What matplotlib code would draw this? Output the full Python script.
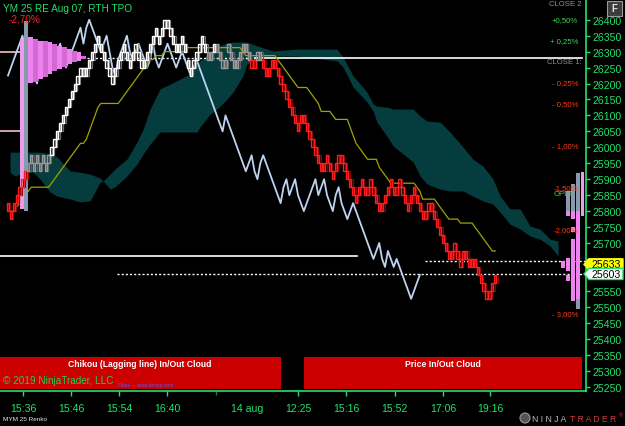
import numpy as np
import pandas as pd
import matplotlib
matplotlib.use("Agg")
import matplotlib.pyplot as plt
from matplotlib.patches import Rectangle, Polygon
import matplotlib.transforms as mtransforms

plt.rcParams['font.family'] = ['Liberation Sans', 'DejaVu Sans']

# ---------------- data ----------------
brick_size = 25
closes = [
    25800, 25775, 25825, 25850, 25875, 25900, 25925, 25950, 25975, 25925,
    25975, 25925, 25975, 25925, 25975, 26000, 26025, 26050, 26075, 26100,
    26125, 26150, 26175, 26200, 26225, 26250, 26225, 26250, 26275, 26300,
    26325, 26350, 26300, 26275, 26250, 26225, 26200, 26250, 26275, 26300,
    26325, 26275, 26250, 26300, 26325, 26275, 26250, 26275, 26300, 26325,
    26350, 26375, 26325, 26375, 26400, 26375, 26350, 26325, 26300, 26325,
    26350, 26300, 26250, 26225, 26275, 26300, 26325, 26350, 26300, 26275,
    26300, 26325, 26300, 26275, 26250, 26275, 26325, 26275, 26250, 26275,
    26300, 26325, 26300, 26275, 26250, 26275, 26300, 26275, 26250, 26225,
    26250, 26275, 26250, 26225, 26200, 26175, 26150, 26125, 26100, 26075,
    26050, 26100, 26075, 26050, 26025, 26000, 25975, 25950, 25925, 25950,
    25975, 25925, 25900, 25950, 25975, 25950, 25925, 25900, 25875, 25850,
    25825, 25875, 25900, 25850, 25875, 25900, 25850, 25825, 25800, 25825,
    25850, 25875, 25900, 25850, 25875, 25900, 25850, 25825, 25800, 25850,
    25875, 25825, 25800, 25775, 25800, 25825, 25800, 25775, 25750, 25725,
    25700, 25675, 25650, 25675, 25700, 25650, 25625, 25675, 25650, 25625,
    25650, 25625, 25600, 25575, 25550, 25525, 25550, 25575, 25600,
]
chikou_shift = 26
kijun_period = 26

cloud_bars = [0.7, 2.4, 4.1, 8.6, 11.0, 14.5, 16.9, 21.4, 24.8, 28.3, 30.0, 31.7, 32.8,
              35.2, 36.9, 41.0, 44.5, 46.6, 49.0, 52.4, 55.9, 62.8, 65.2, 66.2, 69.7,
              72.1, 75.5, 77.6, 81.0, 82.4, 85.9, 91.4, 99.7, 113.4, 115.5, 119.0,
              123.8, 125.9, 127.2, 130.7, 132.8, 139.7, 142.1, 144.5, 149.0, 152.4,
              156.9, 160.3, 163.8, 167.2, 169.7, 173.1, 176.6, 180.0, 183.4, 186.9, 189.7]
cloud_span_a = [25985, 25985, 25985, 25985, 25985, 25979, 25970, 25926, 25922, 25916,
                25910, 25904, 25894, 25916, 25932, 25963, 26017, 26057, 26120, 26183,
                26198, 26230, 26261, 26271, 26299, 26314, 26327, 26330, 26330, 26330,
                26318, 26302, 26308, 26308, 26283, 26224, 26173, 26136, 26129, 26126,
                26120, 26120, 26098, 26082, 26079, 26048, 26001, 25963, 25941, 25901,
                25847, 25807, 25807, 25753, 25744, 25712, 25706]
cloud_span_b = [25922, 25910, 25916, 25922, 25901, 25860, 25847, 25838, 25829, 25832,
                25860, 25891, 25894, 25869, 25876, 25910, 25948, 25979, 26010, 26048,
                26048, 26048, 26048, 26064, 26104, 26120, 26151, 26173, 26224, 26261,
                26277, 26286, 26286, 26271, 26252, 26189, 26142, 26114, 26079, 26035,
                26004, 25954, 25910, 25885, 25869, 25863, 25863, 25847, 25832, 25822,
                25797, 25759, 25744, 25722, 25712, 25691, 25659]

# left TPO profile: (left bar, width, low, high)
left_prof_left = [4.14, 5.52, 7.0, 8.67, 10.33, 12.0, 13.67, 15.33, 17.0, 18.67, 20.33, 22.0, 23.67, 25.33]
left_prof_width = [1.38, 1.5, 1.67, 1.67, 1.67, 1.67, 1.67, 1.67, 1.67, 1.67, 1.67, 1.67, 1.67, 1.5]
left_prof_low = [25807, 25800, 26201, 26205, 26214, 26220, 26230, 26239, 26245, 26252, 26261, 26267, 26271, 26277]
left_prof_high = [26339, 26396, 26346, 26339, 26333, 26333, 26330, 26324, 26318, 26314, 26308, 26302, 26299, 26286]
left_prof_kind = ['pale', 'gray', 'a', 'b', 'a', 'b', 'a', 'b', 'a', 'b', 'a', 'b', 'a', 'b']

# right profile: (x0, x1, low, high, kind)
right_prof_x0 = [192.4, 192.4, 194.1, 194.1, 194.1, 194.1, 195.9, 195.9, 195.9, 197.6, 190.7, 192.4, 192.4]
right_prof_x1 = [193.8, 193.8, 195.5, 195.5, 195.5, 195.5, 197.2, 197.2, 197.2, 198.6, 192.1, 193.8, 193.8]
right_prof_low = [25800, 25784, 25800, 25775, 25734, 25518, 25800, 25524, 25493, 25784, 25622, 25612, 25581]
right_prof_high = [25863, 25800, 25885, 25800, 25750, 25712, 25919, 25800, 25524, 25922, 25644, 25653, 25600]
right_prof_kind = ['gray', 'a', 'gray', 'a', 'a', 'a', 'gray', 'a', 'gray', 'pale', 'a', 'a', 'a']

close1_level = 26280
pct_values = [0.50, 0.25, -0.25, -0.50, -1.00, -1.50, -2.00, -3.00]
pct_labels = ["+0,50%", "+ 0,25%", "- 0,25%", "- 0,50%", "- 1,00%", "-1,50%", "-2,00%", "- 3,00%"]
open_level = 25856
close2_level = 26452

ref_line_level = 25660
dotted_level = 25645
last_price = 25603
yellow_tag = 25633
left_pink_levels = [26300, 26050]

x_tick_bars = [5.2, 21.7, 38.3, 54.8, 82.4, 100.0, 116.6, 133.4, 150.0, 166.2]
x_tick_labels = ["15:36", "15:46", "15:54", "16:40", "14 aug", "12:25", "15:16", "15:52", "17:06", "19:16"]
y_ticks = list(range(25250, 26401, 50))
y_hidden_by_tags = [25650, 25600]

# ---------------- styling ----------------
GREEN = '#1fe36a'
TEAL = '#053c3e'
W, H = 625, 427
fig = plt.figure(figsize=(W / 100, H / 100), dpi=100, facecolor='black')
ax = fig.add_axes([0, (H - 392) / H, 586 / W, 392 / H], facecolor='black')
ax.set_xlim(-2.76, 199.3)
ax.set_ylim(25236, 26465)

c = np.array(closes, float)
n = len(c)
xb = np.arange(n)
d = np.sign(np.diff(c, prepend=c[0] + brick_size))
bot = np.where(d > 0, c - brick_size, c)
top = bot + brick_size

# cloud
ax.fill_between(cloud_bars, cloud_span_a, cloud_span_b, color=TEAL, lw=0, zorder=1)

# horizontal reference lines
ax.plot([-2.76, 6.2], [left_pink_levels[0]] * 2, color='#f4c0c8', lw=1.2, zorder=2)
ax.plot([-2.76, 6.2], [left_pink_levels[1]] * 2, color='#f4c0c8', lw=1.2, zorder=2)
ax.plot([27.2, 85.2], [close1_level] * 2, color='white', lw=1, ls=(0, (1.5, 1.5)), zorder=2)
ax.plot([85.2, 197.9], [close1_level] * 2, color='white', lw=1.2, zorder=2)
ax.plot([-2.76, 120.3], [ref_line_level] * 2, color='white', lw=1.2, zorder=2)
ax.plot([143.8, 199.3], [dotted_level] * 2, color='white', lw=1, ls=(0, (1.5, 1.5)), zorder=2)
ax.plot([37.6, 199.3], [last_price] * 2, color='white', lw=1, ls=(0, (1.5, 1.5)), zorder=2)

# chikou (close shifted back)
ax.plot(xb[:n - chikou_shift], c[chikou_shift:], color='#bcd4f2', lw=1.3, zorder=3)

# kijun
hi = pd.Series(top).rolling(kijun_period, min_periods=1).max()
lo = pd.Series(bot).rolling(kijun_period, min_periods=1).min()
kijun = (hi + lo) / 2
ax.plot(xb, kijun, color='#a3a300', lw=0.9, zorder=3.5)

# profiles
kind_color = {'pale': '#eb9ceb', 'gray': '#8a9aae', 'a': '#ee82ee', 'b': '#d36ad3'}
for x0, w, l, h, k in zip(left_prof_left, left_prof_width, left_prof_low, left_prof_high, left_prof_kind):
    ax.add_patch(Rectangle((x0, l), w, h - l, facecolor=kind_color[k], edgecolor='none', zorder=4))
for x0, x1, l, h, k in zip(right_prof_x0, right_prof_x1, right_prof_low, right_prof_high, right_prof_kind):
    ax.add_patch(Rectangle((x0, l), x1 - x0, h - l, facecolor=kind_color[k], edgecolor='none', zorder=4))

# renko bricks coloured by position against the cloud
cu = np.interp(xb, cloud_bars, np.maximum(cloud_span_a, cloud_span_b))
cl = np.interp(xb, cloud_bars, np.minimum(cloud_span_a, cloud_span_b))
mid = (top + bot) / 2
cols = np.where(mid > cu, 'white', np.where(mid < cl, '#ff1c1c', '#9a9a9a'))
ghost = np.where(mid > cu, '#6e6e6e', np.where(mid < cl, '#8a0000', '#5a5a5a'))
ax.bar(xb + 0.45, brick_size, bottom=bot, width=0.8, fill=False, edgecolor=ghost, lw=0.9, zorder=4.8)
ax.bar(xb, brick_size, bottom=bot, width=0.8, fill=False, edgecolor=cols, lw=1.0, zorder=5)

# percentage / level labels
for p, lab in zip(pct_values, pct_labels):
    lvl = close1_level * (1 + p / 100)
    col = '#33dd55' if p > 0 else '#ff3a10'
    ax.text(196.6, lvl - 12, lab, color=col, fontsize=5.6, ha='right', va='center', zorder=6)
ax.text(197.8, close2_level, "CLOSE 2", color='#8493a6', fontsize=5.6, ha='right', va='center', zorder=6)
ax.text(197.8, close1_level - 12, "CLOSE 1:", color='#8493a6', fontsize=5.6, ha='right', va='center', zorder=6)
ax.text(188.3, open_level, "OPEN", color='#55cc55', fontsize=5.6, ha='left', va='center', zorder=3.9)

# axes styling
for s in ['top', 'left']:
    ax.spines[s].set_visible(False)
for s in ['right', 'bottom']:
    ax.spines[s].set_color(GREEN)
    ax.spines[s].set_linewidth(1.2)
ax.yaxis.tick_right()
ax.set_yticks(y_ticks)
ax.set_yticklabels(['' if v in y_hidden_by_tags else str(v) for v in y_ticks])
ax.tick_params(axis='y', colors=GREEN, labelsize=7.6, length=3, width=1, pad=1.5)
ax.set_xticks(x_tick_bars)
ax.set_xticklabels(x_tick_labels)
ax.tick_params(axis='x', colors=GREEN, labelsize=7.6, length=3.5, width=1, pad=5)
ax.set_xticks([71.7], minor=True)
ax.tick_params(axis='x', which='minor', colors='#0a8a3a', length=3, width=1)
ax.xaxis.get_major_ticks()[4].tick1line.set_visible(False)

# price tags on the axis (x in axes fraction, y in price)
blend = mtransforms.blended_transform_factory(ax.transAxes, ax.transData)
px = 1.0 / 586.0
half = 17.5
for lvl, fc, ec, z in [(yellow_tag, '#ffff00', '#ffff00', 7), (last_price, 'white', GREEN, 8)]:
    pts = [(1.0 - 2 * px, lvl), (1.0 + 3 * px, lvl + half), (1.0 + 37 * px, lvl + half),
           (1.0 + 37 * px, lvl - half), (1.0 + 3 * px, lvl - half)]
    ax.add_patch(Polygon(pts, closed=True, transform=blend, facecolor=fc, edgecolor=ec,
                         lw=1, clip_on=False, zorder=z))
    ax.text(1.0 + 20 * px, lvl, f"{lvl}", transform=blend, fontsize=7.6, color='black',
            va='center', ha='center', clip_on=False, zorder=z + 0.5)

# ---------------- overlay decorations (pixel space) ----------------
ov = fig.add_axes([0, 0, 1, 1], zorder=10)
ov.set_xlim(0, W)
ov.set_ylim(H, 0)
ov.axis('off')
ov.patch.set_alpha(0)

ov.add_patch(Rectangle((0, 358), 281, 32, facecolor='#cc0000', edgecolor='none'))
ov.add_patch(Rectangle((304, 358), 278, 32, facecolor='#cc0000', edgecolor='none'))
ov.text(140, 364.5, "Chikou (Lagging line) In/Out Cloud", color='white', fontsize=6.2,
        fontweight='bold', ha='center', va='center')
ov.text(443, 364.5, "Price In/Out Cloud", color='white', fontsize=6.2,
        fontweight='bold', ha='center', va='center')
ov.text(3, 381, "\u00a9 2019 NinjaTrader, LLC", color='#2ec84a', fontsize=7.2, ha='left', va='center')
ov.text(118, 385.5, "Filed \u2014 www.fimelp.com", color='#4a5cff', fontsize=3.6, ha='left', va='center')

ov.text(3, 8.5, "YM 25 RE Aug 07, RTH TPO", color='#22e06a', fontsize=7.2, ha='left', va='center')
ov.text(9, 20, "-2,70%", color='#ff2020', fontsize=7.2, ha='left', va='center')

ov.add_patch(Rectangle((607, 2), 15, 15, facecolor='#3c3c3c', edgecolor='#9a9a9a', lw=0.8))
ov.text(614.5, 9.5, "F", color='#e0e0e0', fontsize=7, fontweight='bold', ha='center', va='center')

ov.text(3, 420, "MYM 25 Renko", color='#e8e8e8', fontsize=4.6, ha='left', va='center')
ov.add_patch(plt.Circle((525, 419), 5, facecolor='#555555', edgecolor='#999999', lw=0.8))
ov.text(532, 419.5, "N I N J A", color='#b8b8b8', fontsize=6.2, ha='left', va='center')
ov.text(570, 419.5, "T R A D E R", color='#d23a3a', fontsize=6.2, ha='left', va='center')
ov.text(619, 416, "\u00ae", color='#d23a3a', fontsize=4, ha='left', va='center')

fig.savefig("out.png", dpi=100, facecolor='black')
